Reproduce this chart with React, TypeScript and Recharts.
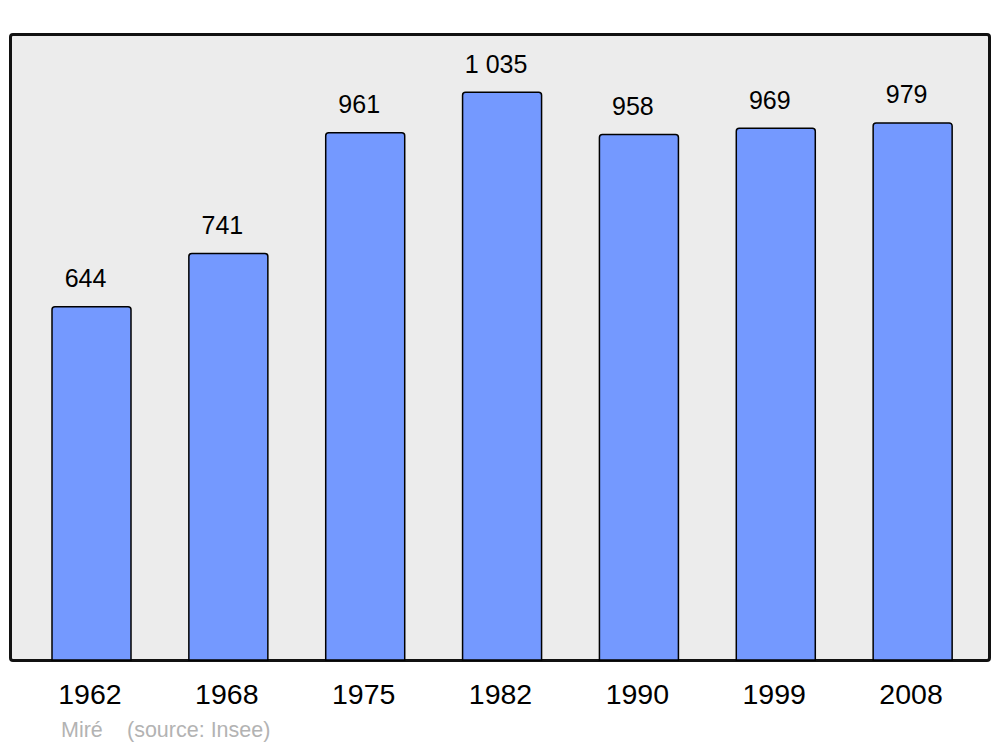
import { BarChart, Bar, XAxis, YAxis, LabelList } from 'recharts';

const years = ['1962', '1968', '1975', '1982', '1990', '1999', '2008'];
const population = [644, 741, 961, 1035, 958, 969, 979];

const data = years.map((year, i) => ({ year, population: population[i] }));

const FONT = '"Liberation Sans", Arial, sans-serif';

const formatFr = (v: number) => String(v).replace(/\B(?=(\d{3})+(?!\d))/g, ' ');

const YearTick = (props: any) => {
  const { x, y, payload } = props;
  return (
    <text x={x - 1.5} y={y + 36} textAnchor="middle" fontSize={28.5} fontFamily={FONT} fill="#000">
      {payload.value}
    </text>
  );
};

// value label drawn above each bar, nudged a bit left like the original
const ValueLabel = (props: any) => {
  const { x, y, width, value } = props;
  return (
    <text x={x + width / 2 - 6} y={y - 19.5} textAnchor="middle" fontSize={25} fontFamily={FONT} fill="#000">
      {formatFr(Number(value))}
    </text>
  );
};

export default function App() {
  return (
    <div style={{ position: 'absolute', left: 0, top: 0, width: 1000, height: 747, background: '#fff', fontFamily: FONT }}>
      {/* plot frame */}
      <div
        style={{
          position: 'absolute',
          left: 9.3,
          top: 32.7,
          width: 975.4,
          height: 623,
          background: '#ececec',
          border: '3px solid #111',
          borderRadius: 4,
        }}
      />
      <div style={{ position: 'absolute', left: 0, top: 0 }}>
        <BarChart
          width={1000}
          height={747}
          data={data}
          margin={{ top: 34, right: 11, left: 11, bottom: 37 }}
          barSize={79}
        >
          <XAxis
            dataKey="year"
            height={50}
            axisLine={false}
            tickLine={false}
            padding={{ left: 12, right: 8 }}
            tick={<YearTick />}
            interval={0}
          />
          <YAxis hide domain={[0, 1141]} />
          <Bar
            dataKey="population"
            fill="#7499ff"
            stroke="#000"
            strokeWidth={1.5}
            radius={[3, 3, 0, 0]}
            isAnimationActive={false}
          >
            <LabelList dataKey="population" content={<ValueLabel />} />
          </Bar>
        </BarChart>
      </div>
      <div style={{ position: 'absolute', left: 61, top: 718, fontSize: 21.5, color: '#b3b3b3', whiteSpace: 'nowrap' }}>
        Miré
      </div>
      <div style={{ position: 'absolute', left: 127, top: 718, fontSize: 21.5, color: '#b3b3b3', whiteSpace: 'nowrap' }}>
        (source: Insee)
      </div>
    </div>
  );
}
